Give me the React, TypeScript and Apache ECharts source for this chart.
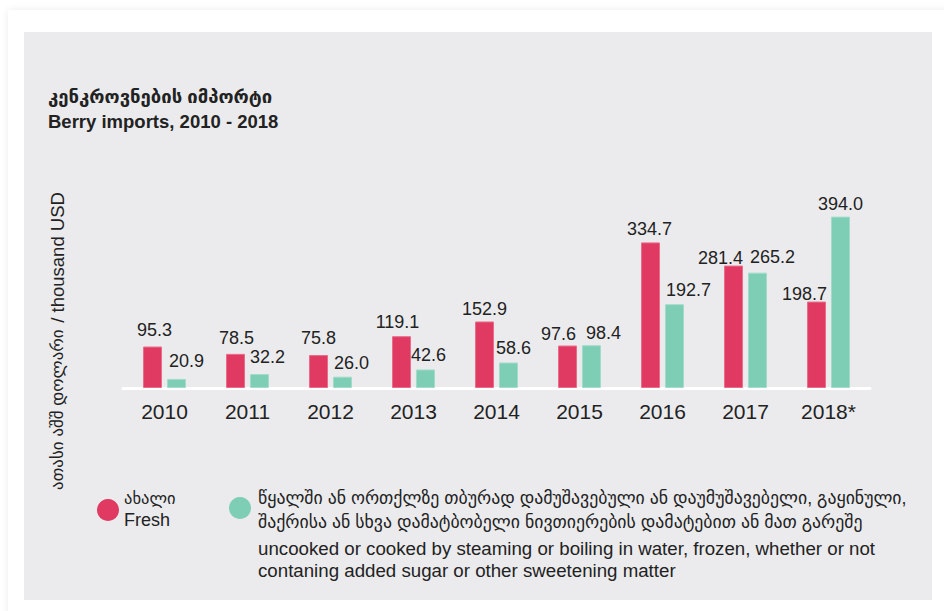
import React, { useEffect, useRef } from "react";
import * as echarts from "echarts";

const categories = ["2010", "2011", "2012", "2013", "2014", "2015", "2016", "2017", "2018*"];
const freshValues = [95.3, 78.5, 75.8, 119.1, 152.9, 97.6, 334.7, 281.4, 198.7];
const frozenValues = [20.9, 32.2, 26.0, 42.6, 58.6, 98.4, 192.7, 265.2, 394.0];

const freshName = ["ახალი", "Fresh"];
const frozenNameKa = [
  "წყალში ან ორთქლზე თბურად დამუშავებული ან დაუმუშავებელი, გაყინული,",
  "შაქრისა ან სხვა დამატბობელი ნივთიერების დამატებით ან მათ გარეშე",
];
const frozenNameEn = [
  "uncooked or cooked by steaming or boiling in water, frozen, whether or not",
  "contaning added sugar or other sweetening matter",
];
const titleKa = "კენკროვნების იმპორტი";
const titleEn = "Berry imports, 2010 - 2018";
const yAxisNameKa = "ათასი აშშ დოლარი";
const yAxisNameEn = "/ thousand USD";

// label nudges (styling, kept separate from data)
const freshLabelDx = [2, 1, 0, -4, 0, -9, -1, -13, -12];
const freshLabelDy = [-3, -2, -3, 0, 2, 2, 1, 6, 6];
const frozenLabelDx = [10, 8, 9, 3, 5, 12, 14, 15, 0];
const frozenLabelDy = [-4, -3, 0, 0, -1, 2, 0, -2, 1];

const RED = "#e03a62";
const TEAL = "#7ecdb5";
const FONT = "'Liberation Sans', Arial, 'DejaVu Sans', sans-serif";

export default function App() {
  const ref = useRef<HTMLDivElement>(null);
  useEffect(() => {
    if (!ref.current) return;
    const chart = echarts.init(ref.current, undefined, { renderer: "svg" });
    const mk = (vals: number[], dx: number[], dy: number[]) =>
      vals.map((v, i) => ({ value: v, label: { offset: [dx[i], dy[i]] } }));
    const txt = (x: number, y: number, text: string, size: number, extra: any = {}) => ({
      type: "text",
      x,
      y,
      style: {
        text,
        fontSize: size,
        fontFamily: FONT,
        fill: "#222",
        textVerticalAlign: "middle",
        ...extra,
      },
    });
    const labelCfg = {
      show: true,
      position: "top",
      distance: 5,
      fontSize: 18,
      color: "#222",
      fontFamily: FONT,
      formatter: (p: any) => Number(p.value).toFixed(1),
    };
    chart.setOption({
      animation: false,
      backgroundColor: "transparent",
      grid: { left: 123, right: 74, top: 214, bottom: 223, containLabel: false },
      xAxis: {
        type: "category",
        data: categories,
        axisLine: { show: true, lineStyle: { color: "#ffffff", width: 3 } },
        axisTick: { show: false },
        axisLabel: { fontSize: 21, color: "#222", fontFamily: FONT, margin: 13 },
      },
      yAxis: {
        type: "value",
        min: 0,
        max: 400,
        show: false,
        splitLine: { show: false },
      },
      series: [
        {
          type: "bar",
          name: freshName[1],
          data: mk(freshValues, freshLabelDx, freshLabelDy),
          barWidth: 19,
          barGap: "26%",
          itemStyle: { color: RED, borderColor: "#ea6c8a", borderWidth: 1 },
          label: labelCfg,
        },
        {
          type: "bar",
          name: "frozen",
          data: mk(frozenValues, frozenLabelDx, frozenLabelDy),
          barWidth: 19,
          itemStyle: { color: TEAL, borderColor: "#a3dcca", borderWidth: 1 },
          label: labelCfg,
        },
      ],
      graphic: [
        txt(48, 96, titleKa, 18.5, { fontWeight: "bold" }),
        txt(48, 121, titleEn, 18.5, { fontWeight: "bold" }),
        {
          type: "text",
          x: 57,
          y: 341,
          rotation: Math.PI / 2,
          style: {
            text: "{ka|" + yAxisNameKa + "}  {en|" + yAxisNameEn + "}",
            fontFamily: FONT,
            fill: "#222",
            textAlign: "center",
            textVerticalAlign: "middle",
            rich: {
              ka: { fontSize: 17, fontFamily: FONT, fill: "#222" },
              en: { fontSize: 18.5, fontFamily: FONT, fill: "#222" },
            },
          },
        },
        { type: "circle", shape: { cx: 108, cy: 510, r: 11 }, style: { fill: RED } },
        txt(124, 498, freshName[0], 16.5),
        txt(124, 520, freshName[1], 18),
        { type: "circle", shape: { cx: 240, cy: 508, r: 11 }, style: { fill: TEAL } },
        txt(258, 498, frozenNameKa[0], 17.8),
        txt(258, 522, frozenNameKa[1], 17.8),
        txt(258, 548, frozenNameEn[0], 18.7),
        txt(258, 570, frozenNameEn[1], 18.7),
      ],
    });
    return () => chart.dispose();
  }, []);
  return (
    <div style={{ position: "absolute", left: 0, top: 0, width: 944, height: 611, background: "#fff", overflow: "hidden" }}>
      <div
        style={{
          position: "absolute",
          left: 8,
          top: 10,
          width: 960,
          height: 640,
          background: "#fff",
          boxShadow: "0 0 8px rgba(0,0,0,0.08)",
        }}
      />
      <div style={{ position: "absolute", left: 24, top: 32, width: 908, height: 568, background: "#ebebed" }} />
      <div ref={ref} style={{ position: "absolute", left: 0, top: 0, width: 944, height: 611 }} />
    </div>
  );
}
